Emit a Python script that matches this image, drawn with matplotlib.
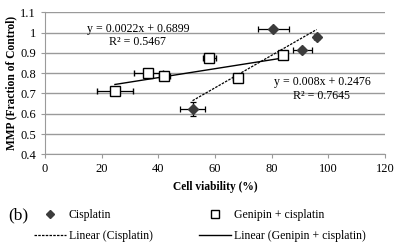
import numpy as np
import matplotlib
matplotlib.use("Agg")
import matplotlib.pyplot as plt
from matplotlib.lines import Line2D

# datos
cis_x = [52.1, 80.6, 90.9, 95.9]
cis_y = [0.625, 1.018, 0.916, 0.978]
cis_xerr = [4.5, 5.5, 3.5, 1.0]
cis_yerr = [0.035, 0.008, 0.010, 0.010]

gen_x = [24.7, 36.5, 42.1, 58.0, 68.0, 84.1]
gen_y = [0.714, 0.802, 0.786, 0.877, 0.778, 0.888]
gen_xerr = [6.3, 5.0, 2.0, 2.3, 1.5, 1.0]
gen_yerr = [0.015, 0.008, 0.012, 0.010, 0.010, 0.008]

# tendencias (Excel)
cis_fit = [0.008, 0.2476]
gen_fit = [0.0022, 0.6899]
cis_eq = ["y = 0.008x + 0.2476", "R² = 0.7645"]
gen_eq = ["y = 0.0022x + 0.6899", "R² = 0.5467"]

xticks = [0, 20, 40, 60, 80, 100, 120]
yticks = [0.4, 0.5, 0.6, 0.7, 0.8, 0.9, 1.0, 1.1]
ytick_labels = ["0.4", "0.5", "0.6", "0.7", "0.8", "0.9", "1", "1.1"]

plt.rcParams['font.family'] = ['Liberation Serif', 'DejaVu Serif']

fig = plt.figure(figsize=(3.98, 2.45), dpi=100)
ax = fig.add_axes([0.113, 0.370, 0.854, 0.580])

grey = '#9a9a9a'
ax.set_xlim(0, 120)
ax.set_ylim(0.4, 1.1)
ax.set_xticks(xticks)
ax.set_yticks(yticks)
ax.set_yticklabels(ytick_labels)
ax.yaxis.grid(True, color=grey, lw=1)
ax.set_axisbelow(True)
for s in ['top', 'right']:
    ax.spines[s].set_visible(False)
for s in ['left', 'bottom']:
    ax.spines[s].set_color(grey)
ax.tick_params(axis='both', colors=grey, labelcolor='black', labelsize=9,
               length=3, width=0.8, direction='out')

# lineas de tendencia
xc = np.array([min(cis_x), max(cis_x)])
ax.plot(xc, cis_fit[0] * xc + cis_fit[1], color='black', lw=0.9,
        ls=(0, (2, 1)), zorder=2)
xg = np.array([min(gen_x), max(gen_x)])
ax.plot(xg, gen_fit[0] * xg + gen_fit[1], color='black', lw=1, zorder=2)

# puntos con barras de error
ax.errorbar(cis_x, cis_y, xerr=cis_xerr, yerr=cis_yerr, fmt='D', ms=5.5,
            mfc='#3c3c3c', mec='#3c3c3c', ecolor='black', elinewidth=0.9,
            capsize=2, capthick=0.9, zorder=3)
ax.errorbar(gen_x, gen_y, xerr=gen_xerr, yerr=gen_yerr, fmt='s', ms=7.5,
            mfc='white', mec='black', mew=1, ecolor='black', elinewidth=0.9,
            capsize=2, capthick=0.9, zorder=3)

# ecuaciones
ax.text(32.8, 1.017, gen_eq[0], ha='center', va='center', fontsize=8.6)
ax.text(32.8, 0.954, gen_eq[1], ha='center', va='center', fontsize=8.6)
ax.text(98, 0.758, cis_eq[0], ha='center', va='center', fontsize=8.6)
ax.text(97.7, 0.687, cis_eq[1], ha='center', va='center', fontsize=8.6)

ax.set_xlabel('Cell viability (%)', fontsize=8.3, fontweight='bold', labelpad=4)
ax.set_ylabel('MMP (Fraction of Control)', fontsize=8.3, fontweight='bold', labelpad=2)

# leyenda
handles = [
    Line2D([], [], ls='none', marker='D', ms=4, mfc='#3c3c3c', mec='#3c3c3c'),
    Line2D([], [], color='black', lw=0.9, ls=(0, (2, 1))),
    Line2D([], [], ls='none', marker='s', ms=6, mfc='white', mec='black', mew=1),
    Line2D([], [], color='black', lw=1),
]
labels = ['Cisplatin', 'Linear (Cisplatin)', 'Genipin + cisplatin',
          'Linear (Genipin + cisplatin)']
fig.legend(handles, labels, ncol=2, loc='upper left', bbox_to_anchor=(0.085, 0.147),
           frameon=False, fontsize=8.5, handlelength=2.7, handletextpad=0.25,
           columnspacing=3.95, labelspacing=0.75, borderaxespad=0, borderpad=0)

fig.text(0.02, 0.122, '(b)', fontsize=12.5, va='center', ha='left')

fig.savefig('out.png', dpi=100)
